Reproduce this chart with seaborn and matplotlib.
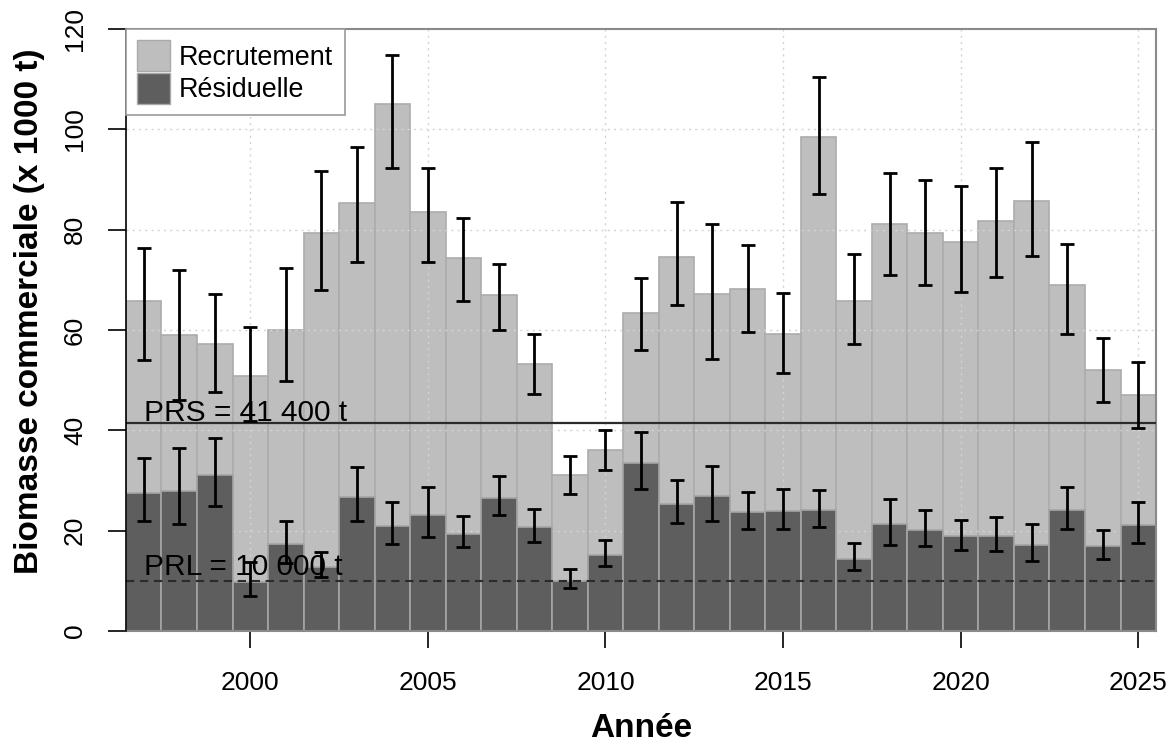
"""
Biomasse commerciale par année: recrutement et biomasse résiduelle,
avec les points de référence PRS et PRL.
"""

import matplotlib

matplotlib.use("Agg")

import matplotlib.pyplot as plt
import seaborn as sns
from matplotlib.patches import Patch


YEARS = list(range(1997, 2026))

TOTAL = [
    65.7, 59.0, 57.3, 50.8, 60.1, 79.3, 85.3, 105.0, 83.5, 74.3,
    67.0, 53.3, 31.1, 36.0, 63.4, 74.6, 67.1, 68.2, 59.2, 98.5,
    65.8, 81.1, 79.3, 77.5, 81.7, 85.8, 68.9, 52.1, 47.0
]
TOTAL_LOW = [
    54.1, 46.1, 47.6, 41.8, 49.8, 68.0, 73.5, 92.4, 73.5, 65.7,
    60.0, 47.2, 27.4, 32.0, 56.0, 64.9, 54.2, 59.7, 51.4, 87.1,
    57.2, 70.9, 69.0, 67.6, 70.5, 74.7, 59.3, 45.6, 40.5
]
TOTAL_HIGH = [
    76.3, 72.0, 67.1, 60.7, 72.4, 91.8, 96.5, 114.8, 92.4, 82.3,
    73.2, 59.3, 34.8, 40.1, 70.4, 85.6, 81.1, 77.0, 67.3, 110.5,
    75.1, 91.4, 89.9, 88.8, 92.4, 97.5, 77.1, 58.5, 53.6
]

RESIDUAL = [
    27.5, 28.0, 31.0, 9.8, 17.4, 12.8, 26.8, 21.0, 23.2, 19.4,
    26.6, 20.7, 10.0, 15.2, 33.5, 25.4, 26.9, 23.7, 23.9, 24.1,
    14.4, 21.3, 20.1, 18.9, 18.9, 17.2, 24.1, 16.9, 21.1
]
RESIDUAL_LOW = [
    21.9, 21.4, 24.9, 7.0, 13.6, 10.7, 22.0, 17.3, 18.8, 16.7,
    23.1, 17.8, 8.5, 12.9, 28.4, 21.5, 21.9, 20.3, 20.3, 20.8,
    12.1, 17.2, 16.9, 16.2, 15.9, 14.0, 20.4, 14.3, 17.5
]
RESIDUAL_HIGH = [
    34.4, 36.5, 38.4, 13.8, 22.0, 15.7, 32.6, 25.7, 28.8, 22.9,
    30.8, 24.3, 12.4, 18.2, 39.7, 30.2, 32.9, 27.8, 28.4, 28.2,
    17.5, 26.3, 24.1, 22.2, 22.7, 21.3, 28.8, 20.1, 25.7
]

PRS = 41.4
PRL = 10.0
PRS_LABEL = "PRS = 41 400 t"
PRL_LABEL = "PRL = 10 000 t"

LEGEND_LABELS = ["Recrutement", "Résiduelle"]
X_TICKS = [2000, 2005, 2010, 2015, 2020, 2025]
Y_TICKS = [0, 20, 40, 60, 80, 100, 120]

LIGHT = "#bebebe"
DARK = "#5e5e5e"


def draw_bars(ax) -> None:
    """
    Draw total (light) and residual (dark) biomass bars.
    """

    sns.barplot(
        x=YEARS, y=TOTAL, native_scale=True, width=1,
        color=LIGHT, saturation=1, edgecolor="#acacac",
        linewidth=1.2, errorbar=None, ax=ax, zorder=1
    )
    sns.barplot(
        x=YEARS, y=RESIDUAL, native_scale=True, width=1,
        color=DARK, saturation=1, edgecolor="#a5a5a5",
        linewidth=1.2, errorbar=None, ax=ax, zorder=1.2
    )


def draw_errorbars(ax) -> None:
    """
    Draw asymmetric error bars for both series.
    """

    for values, low, high in [
        (TOTAL, TOTAL_LOW, TOTAL_HIGH),
        (RESIDUAL, RESIDUAL_LOW, RESIDUAL_HIGH),
    ]:
        yerr = [
            [v - lo for v, lo in zip(values, low)],
            [hi - v for v, hi in zip(values, high)],
        ]
        ax.errorbar(
            YEARS, values, yerr=yerr, fmt="none",
            ecolor="black", elinewidth=2, capsize=4.8,
            capthick=2, zorder=4
        )


def style_axes(ax) -> None:
    """
    Grid, reference lines, ticks, labels and legend.
    """

    ax.set_xlim(1996.5, 2025.5)
    ax.set_ylim(0, 120)

    ax.set_xticks(X_TICKS)
    ax.set_xticklabels([str(t) for t in X_TICKS])
    ax.set_yticks(Y_TICKS)
    ax.set_yticklabels([str(t) for t in Y_TICKS], va="center")

    # grid sits above the light bars but under the dark ones
    for t in X_TICKS:
        ax.axvline(t, color="#d4d4d4", lw=1, ls=(0, (1.5, 3)), zorder=1.1)
    for t in Y_TICKS[1:-1]:
        ax.axhline(t, color="#d4d4d4", lw=1, ls=(0, (1.5, 3)), zorder=1.1)

    ax.axhline(PRS, color="#2b2b2b", lw=1.6, zorder=3)
    ax.axhline(PRL, color="#2b2b2b", lw=1.5, ls=(0, (4, 2.7)), zorder=3)
    ax.text(1997.0, PRS + 0.4, PRS_LABEL, fontsize=21.5,
            ha="left", va="baseline", color="black", zorder=5)
    ax.text(1997.0, PRL + 1.1, PRL_LABEL, fontsize=21.5,
            ha="left", va="baseline", color="black", zorder=5)

    ax.tick_params(axis="x", length=12, width=1.2, pad=17,
                   labelsize=19, direction="out", bottom=True,
                   color="black", labelcolor="black")
    ax.tick_params(axis="y", length=13, width=1.2, pad=15,
                   labelsize=19, direction="out", left=True,
                   labelrotation=90, color="black", labelcolor="black")

    for side in ["top", "right", "bottom"]:
        ax.spines[side].set_color("#8a8a8a")
        ax.spines[side].set_linewidth(1.5)
    ax.spines["left"].set_color("black")
    ax.spines["left"].set_linewidth(1.2)
    ax.spines["left"].set_zorder(6)

    ax.set_xlabel("Année", fontsize=24, fontweight="bold", color="black")
    ax.set_ylabel("Biomasse commerciale (x 1000 t)",
                  fontsize=24, fontweight="bold", color="black")
    ax.xaxis.set_label_coords(0.5, -0.136)
    ax.yaxis.set_label_coords(-0.079, 0.532)

    handles = [
        Patch(facecolor=LIGHT, edgecolor="#a9a9a9", label=LEGEND_LABELS[0]),
        Patch(facecolor=DARK, edgecolor="#a9a9a9", label=LEGEND_LABELS[1]),
    ]
    legend = ax.legend(
        handles=handles, loc="upper left", bbox_to_anchor=(0, 1),
        borderaxespad=0, fontsize=19.4, frameon=True, fancybox=False,
        framealpha=1, edgecolor="#9a9a9a", handlelength=1.22,
        handleheight=1.38, labelspacing=0.06, handletextpad=0.33,
        borderpad=0.42
    )
    legend.get_frame().set_linewidth(1.2)
    legend.set_zorder(7)
    for text in legend.get_texts():
        text.set_color("black")


def main() -> None:
    """
    Build and save the figure.
    """

    sns.set_theme(style="white")
    plt.rcParams["font.family"] = ["Liberation Sans", "DejaVu Sans"]
    plt.rcParams["text.color"] = "black"

    fig = plt.figure(figsize=(11.74, 7.44), dpi=100)
    ax = fig.add_axes([0.1073, 0.1519, 0.8774, 0.809])

    draw_bars(ax)
    draw_errorbars(ax)
    style_axes(ax)

    fig.savefig("out.png", dpi=100)


if __name__ == "__main__":
    main()
